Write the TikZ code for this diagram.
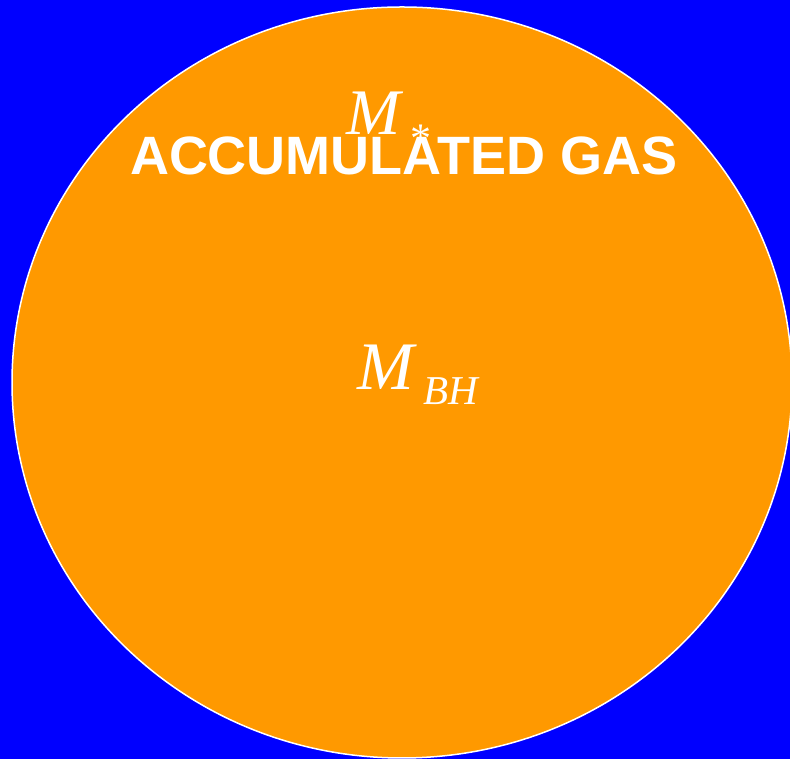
\documentclass[tikz,border=0pt]{standalone}
\usepackage{fontspec}
\setmainfont{Liberation Serif}
\newfontfamily\arialfont{Liberation Sans}
\definecolor{bgblue}{HTML}{0000FF}
\definecolor{gasorange}{HTML}{FF9900}
\tikzset{
  lbl/.style={text=white, inner sep=0pt, outer sep=0pt},
  mass/.style={lbl, font=\fontsize{68}{68}\selectfont\itshape},
  sub/.style={lbl, font=\fontsize{41}{41}\selectfont\itshape},
  title/.style={lbl, font=\fontsize{54}{54}\selectfont\arialfont\bfseries}
}
\begin{document}
\begin{tikzpicture}[x=1pt,y=1pt]
  \fill[bgblue] (0,0) rectangle (790,759);
  \useasboundingbox (0,0) rectangle (790,759);
  \begin{scope}
    \clip (0,0) rectangle (790,759);
    \draw[fill=gasorange, draw=white, line width=1.5pt] (402,376.5) ellipse [x radius=390, y radius=375.5];
  \end{scope}
  \node[mass, anchor=base west, font=\fontsize{65}{65}\selectfont\itshape] (mstar) at (346,624) {M};
  \node[lbl, font=\fontsize{42}{42}\selectfont] (star) at (420.5,620) {*};
  \node[title, anchor=base] (gas) at (404,584) {ACCUMULATED GAS};
  \node[mass, anchor=base west] (mbh) at (357,369) {M};
  \node[sub, anchor=base west] (bh) at (423,354) {BH};
\end{tikzpicture}
\end{document}
